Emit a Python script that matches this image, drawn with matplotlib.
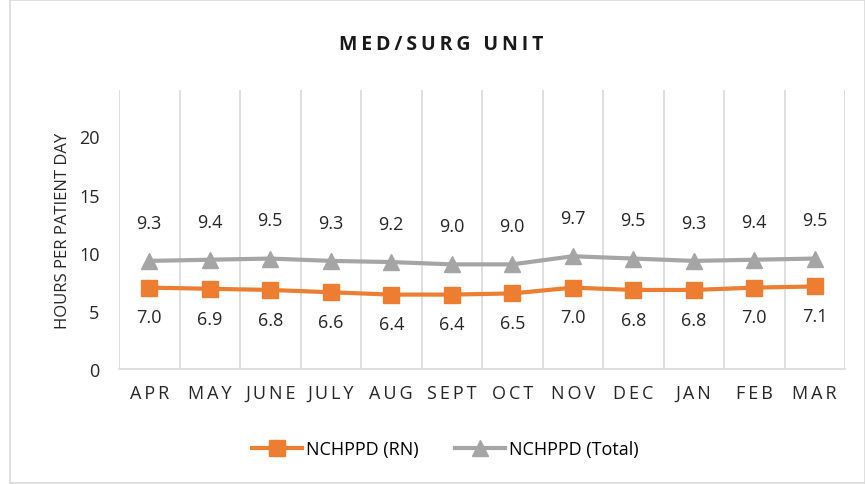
import matplotlib.pyplot as plt
from matplotlib.patches import Rectangle

months = ["APR", "MAY", "JUNE", "JULY", "AUG", "SEPT", "OCT", "NOV", "DEC", "JAN", "FEB", "MAR"]
rn = [7.0, 6.9, 6.8, 6.6, 6.4, 6.4, 6.5, 7.0, 6.8, 6.8, 7.0, 7.1]
total = [9.3, 9.4, 9.5, 9.3, 9.2, 9.0, 9.0, 9.7, 9.5, 9.3, 9.4, 9.5]

plt.rcParams['font.family'] = ['Open Sans', 'DejaVu Sans']
orange = '#ED7D31'
gray = '#A5A5A5'
grid_c = '#D9D9D9'

def spaced(s, sep='\u2009'):
    # letter spacing like the original
    return sep.join(s)

fig = plt.figure(figsize=(8.65, 4.85), dpi=100)
ax = fig.add_axes([119/865, 1 - 370/485, (845-119)/865, (370-91)/485])

x = list(range(len(months)))
ax.plot(x, rn, color=orange, lw=3, marker='s', ms=11, label='NCHPPD (RN)', zorder=3)
ax.plot(x, total, color=gray, lw=3, marker='^', ms=11, label='NCHPPD (Total)', zorder=3)

for i in x:
    ax.annotate(f"{total[i]:.1f}", (i, total[i]), xytext=(0, 21), textcoords='offset points',
                ha='center', va='bottom', fontsize=13, color='#262626')
    ax.annotate(f"{rn[i]:.1f}", (i, rn[i]), xytext=(0, -15), textcoords='offset points',
                ha='center', va='top', fontsize=13, color='#262626')

ax.set_xlim(-0.5, len(months) - 0.5)
ax.set_ylim(0, 24)
ax.set_yticks([0, 5, 10, 15, 20])
ax.set_xticks(x)
ax.set_xticklabels([spaced(m) for m in months])
for b in [i - 0.5 for i in range(len(months) + 1)]:
    ax.axvline(b, color=grid_c, lw=1.2, zorder=1)
ax.tick_params(axis='both', length=0, labelsize=13, colors='#262626')
ax.tick_params(axis='x', pad=11)
ax.tick_params(axis='y', pad=14)
for s in ['top', 'right', 'left']:
    ax.spines[s].set_visible(False)
ax.spines['bottom'].set_color(grid_c)
ax.spines['bottom'].set_linewidth(1.2)

ax.set_ylabel('HOURS PER PATIENT DAY', fontsize=12, color='#262626', labelpad=6)
fig.text(441/865, 1 - 45/485, spaced('MED/SURG UNIT'), ha='center', va='center',
         fontsize=14, fontweight='bold', color='#1a1a1a')

fig.legend(loc='center', bbox_to_anchor=(445/865, 1 - 450/485), ncol=2, frameon=False,
           fontsize=13, handlelength=2.8, columnspacing=2.0, handletextpad=0.2)

fig.patches.append(Rectangle((10/865, 0.002), 855/865, 0.996, transform=fig.transFigure,
                             fill=False, edgecolor=grid_c, lw=1.2))

fig.savefig('out.png', dpi=100)
